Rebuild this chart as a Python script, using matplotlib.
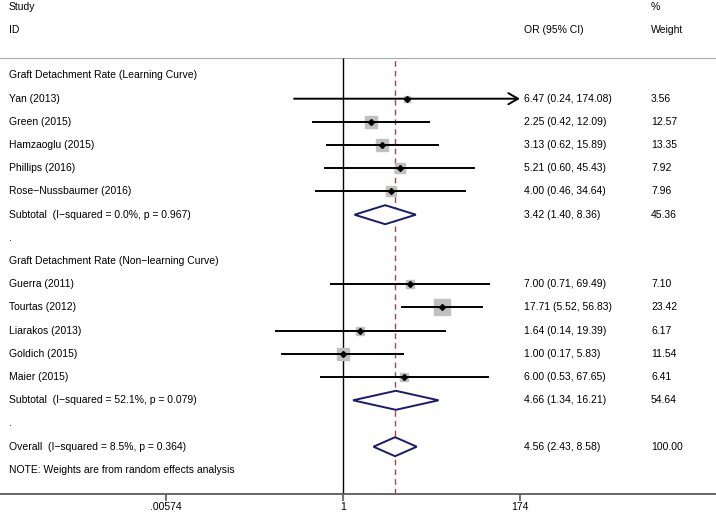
import numpy as np
import matplotlib.pyplot as plt
from matplotlib.transforms import blended_transform_factory

plt.rcParams['font.family'] = ['Liberation Sans', 'DejaVu Sans']

# group 1: learning curve
g1_name = 'Graft Detachment Rate (Learning Curve)'
g1_studies = ['Yan (2013)', 'Green (2015)', 'Hamzaoglu (2015)', 'Phillips (2016)', 'Rose\u2212Nussbaumer (2016)']
g1_or = [6.47, 2.25, 3.13, 5.21, 4.00]
g1_lo = [0.24, 0.42, 0.62, 0.60, 0.46]
g1_hi = [174.08, 12.09, 15.89, 45.43, 34.64]
g1_w = [3.56, 12.57, 13.35, 7.92, 7.96]
g1_sub = [3.42, 1.40, 8.36, 45.36]
g1_het = 'Subtotal  (I\u2212squared = 0.0%, p = 0.967)'

# group 2: non-learning curve
g2_name = 'Graft Detachment Rate (Non\u2212learning Curve)'
g2_studies = ['Guerra (2011)', 'Tourtas (2012)', 'Liarakos (2013)', 'Goldich (2015)', 'Maier (2015)']
g2_or = [7.00, 17.71, 1.64, 1.00, 6.00]
g2_lo = [0.71, 5.52, 0.14, 0.17, 0.53]
g2_hi = [69.49, 56.83, 19.39, 5.83, 67.65]
g2_w = [7.10, 23.42, 6.17, 11.54, 6.41]
g2_sub = [4.66, 1.34, 16.21, 54.64]
g2_het = 'Subtotal  (I\u2212squared = 52.1%, p = 0.079)'

overall = [4.56, 2.43, 8.58, 100.00]
overall_het = 'Overall  (I\u2212squared = 8.5%, p = 0.364)'

xticks = [0.00574, 1, 174]
xticklabels = ['.00574', '1', '174']

W, H = 716, 515
fig = plt.figure(figsize=(W / 100, H / 100), dpi=100)
ax_bottom_px = 494
ax = fig.add_axes([0, (H - ax_bottom_px) / H, 1, ax_bottom_px / H])

# x: log scale, 1 at px 343, 174 at px 520
px_per = (520 - 343) / np.log(174)
ax.set_xscale('log')
ax.set_xlim(np.exp(-343 / px_per), np.exp((W - 343) / px_per))
# y: row index, row 0 at px 75.5, step 23.2
step = 23.2
top0 = 75.5
ax.set_ylim((ax_bottom_px - top0) / step, -top0 / step)

for s in ['top', 'left', 'right']:
    ax.spines[s].set_visible(False)
ax.spines['bottom'].set_color('#5a5a5a')
ax.spines['bottom'].set_linewidth(1.3)
ax.set_yticks([])
ax.set_xticks(xticks)
ax.set_xticklabels(xticklabels)
ax.minorticks_off()
ax.tick_params(axis='x', direction='out', length=5, width=1.2, color='#5a5a5a', labelsize=7.5, pad=1)

tr = blended_transform_factory(ax.transAxes, ax.transData)
fs = 7.5
xl = 9 / W
xor = 524 / W
xw = 651 / W

ax.text(xl, -2.95, 'Study', transform=tr, fontsize=fs, va='center')
ax.text(xl, -1.97, 'ID', transform=tr, fontsize=fs, va='center')
ax.text(xw, -2.95, '%', transform=tr, fontsize=fs, va='center')
ax.text(xw, -1.97, 'Weight', transform=tr, fontsize=fs, va='center')
ax.text(xor, -1.97, 'OR (95% CI)', transform=tr, fontsize=fs, va='center')
ax.axhline(-0.75, color='#aaaaaa', lw=0.8)

ytop = -0.75
ybot = (ax_bottom_px - top0) / step
ax.vlines(1, ybot, ytop, color='black', lw=1.0)
ax.vlines(overall[0], ybot, ytop, color='#9a4a4a', lw=1.0, linestyles=(0, (4, 3)))

axis_hi = 174


def study_row(r, name, o, lo, hi, w):
    ax.text(xl, r, name, transform=tr, fontsize=fs, va='center')
    ax.text(xor, r, f'{o:.2f} ({lo:.2f}, {hi:.2f})', transform=tr, fontsize=fs, va='center')
    ax.text(xw, r, f'{w:.2f}', transform=tr, fontsize=fs, va='center')
    side = 3.3 * np.sqrt(w)
    ax.plot(o, r, marker='s', ms=side * 0.72, color='#c0c0c0', mec='#c0c0c0', zorder=2)
    if hi > axis_hi:
        ax.annotate('', xy=(axis_hi, r), xytext=(lo, r),
                    arrowprops=dict(arrowstyle='->,head_length=0.7,head_width=0.4', lw=1.4,
                                    color='black', shrinkA=0, shrinkB=0), zorder=3)
    else:
        ax.plot([lo, hi], [r, r], color='black', lw=1.4, zorder=3)
    ax.plot(o, r, marker='D', ms=3.0, color='black', zorder=4)


def pooled_row(r, label, vals):
    o, lo, hi, w = vals
    ax.text(xl, r, label, transform=tr, fontsize=fs, va='center')
    ax.text(xor, r, f'{o:.2f} ({lo:.2f}, {hi:.2f})', transform=tr, fontsize=fs, va='center')
    ax.text(xw, r, f'{w:.2f}', transform=tr, fontsize=fs, va='center')
    hh = 0.41
    ax.fill([lo, o, hi, o, lo], [r, r - hh, r, r + hh, r], facecolor='white',
            edgecolor='#1a1a6e', lw=1.4, zorder=3)


r = 0
ax.text(xl, r, g1_name, transform=tr, fontsize=fs, va='center')
for i in range(len(g1_studies)):
    r += 1
    study_row(r, g1_studies[i], g1_or[i], g1_lo[i], g1_hi[i], g1_w[i])
r += 1
pooled_row(r, g1_het, g1_sub)
r += 1
ax.text(xl, r, '.', transform=tr, fontsize=fs, va='center')
r += 1
ax.text(xl, r, g2_name, transform=tr, fontsize=fs, va='center')
for i in range(len(g2_studies)):
    r += 1
    study_row(r, g2_studies[i], g2_or[i], g2_lo[i], g2_hi[i], g2_w[i])
r += 1
pooled_row(r, g2_het, g2_sub)
r += 1
ax.text(xl, r, '.', transform=tr, fontsize=fs, va='center')
r += 1
pooled_row(r, overall_het, overall)
r += 1
ax.text(xl, r, 'NOTE: Weights are from random effects analysis', transform=tr, fontsize=fs, va='center')

fig.savefig('out.png', dpi=100)
